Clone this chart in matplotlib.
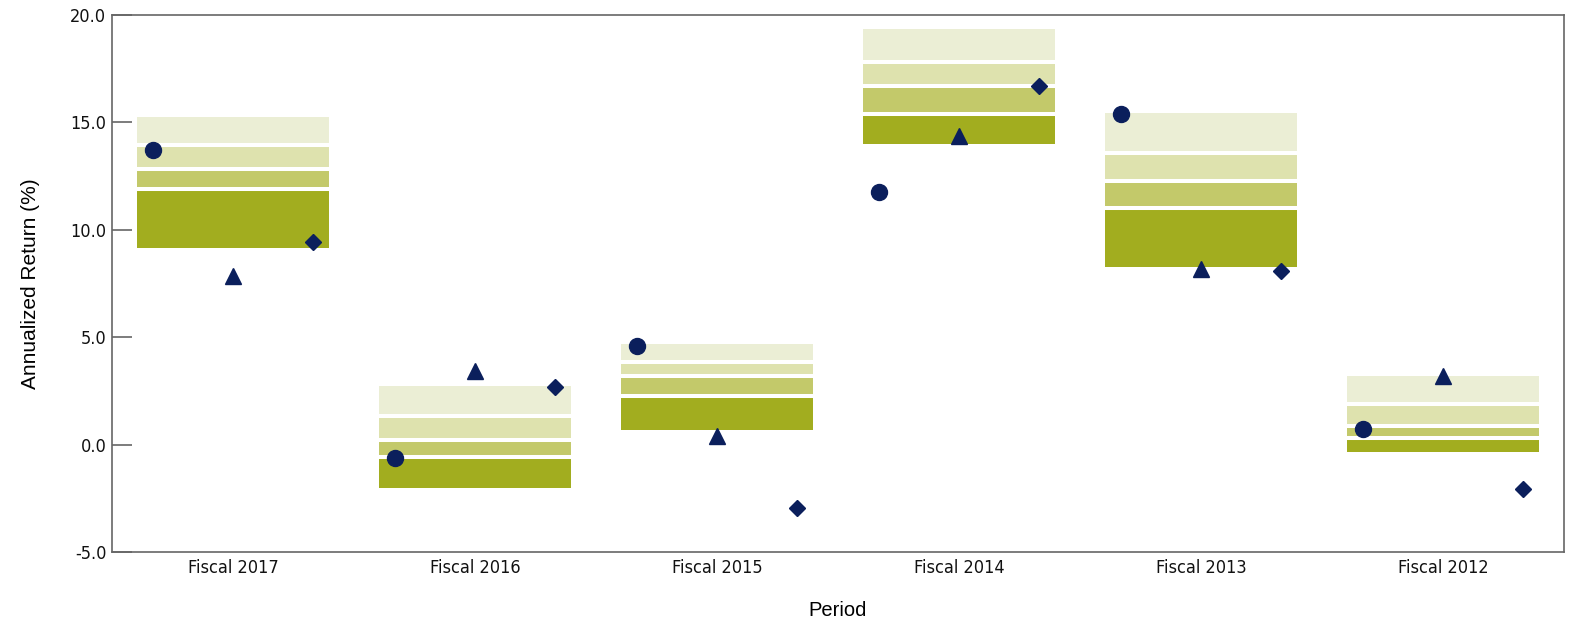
import numpy as np
import matplotlib
matplotlib.use('Agg')
import matplotlib.pyplot as plt
from matplotlib import font_manager

periods = ['Fiscal 2017', 'Fiscal 2016', 'Fiscal 2015', 'Fiscal 2014', 'Fiscal 2013', 'Fiscal 2012']

# percentile bands of the peer universe
p05 = [9.15, -2.00, 0.68, 14.00, 8.29, -0.33]
p25 = [11.92, -0.60, 2.27, 15.40, 11.02, 0.33]
p50 = [12.84, 0.23, 3.18, 16.71, 12.27, 0.87]
p75 = [13.94, 1.33, 3.84, 17.80, 13.58, 1.87]
p95 = [15.27, 2.71, 4.70, 19.33, 15.43, 3.21]

# three return series shown as markers
circle_vals = [13.72, -0.62, 4.60, 11.75, 15.40, 0.74]
triangle_vals = [7.86, 3.44, 0.39, 14.39, 8.19, 3.18]
diamond_vals = [9.43, 2.67, -2.95, 16.71, 8.09, -2.09]

band_colors = ['#A2AD1F', '#C3C96A', '#DEE2AE', '#EBEED5']
navy = '#0B1F5C'
grey = '#666666'

# tick labels in the original use a narrow face; use a condensed one if there is one
fp = font_manager.FontProperties(family='DejaVu Sans', stretch='condensed')
path = font_manager.findfont(fp, fallback_to_default=False)
if 'Condensed' in path:
    tick_font = dict(fontproperties=font_manager.FontProperties(fname=path, size=13))
else:
    tick_font = dict(fontproperties=font_manager.FontProperties(family='Liberation Sans', size=12.3))

fig = plt.figure(figsize=(15.69, 6.24), dpi=100)
ax = fig.add_axes([112 / 1569, 1 - 552 / 624, (1564 - 112) / 1569, (552 - 15) / 624])

x = np.arange(len(periods))
w = 0.79
lows = [p05, p25, p50, p75]
highs = [p25, p50, p75, p95]
for lo, hi, c in zip(lows, highs, band_colors):
    ax.bar(x, np.array(hi) - np.array(lo), bottom=lo, width=w, color=c,
           linewidth=0, zorder=2)

# white separators between the bands
for level in [p25, p50, p75]:
    ax.hlines(level, x - w / 2, x + w / 2, colors='white', linewidth=2.9, zorder=2.5)

off = 0.33
ax.plot(x - off, circle_vals, 'o', color=navy, markersize=11.5, linestyle='none', zorder=3)
ax.plot(x, triangle_vals, '^', color=navy, markersize=11.5, linestyle='none', zorder=3)
ax.plot(x + off, diamond_vals, 'D', color=navy, markersize=8, linestyle='none', zorder=3)

ax.set_xlim(-0.5, len(periods) - 0.5)
ax.set_ylim(-5, 20)
yt = np.arange(-5, 20.1, 5)
ax.set_yticks(yt)
ax.set_yticklabels(['%.1f' % v for v in yt], color='#111111', **tick_font)
ax.set_xticks(x)
ax.set_xticklabels(periods, color='#111111', **tick_font)

ax.tick_params(axis='y', direction='in', length=14.5, width=1.2, color=grey, pad=4)
ax.tick_params(axis='x', length=0, pad=5)
for s in ax.spines.values():
    s.set_color(grey)
    s.set_linewidth(1.2)

ax.set_xlabel('Period', fontsize=14.5, family=['Liberation Sans', 'DejaVu Sans'], labelpad=17)
ax.set_ylabel('Annualized Return (%)', fontsize=15, family=['Liberation Sans', 'DejaVu Sans'], labelpad=22)

fig.savefig('out.png', dpi=100)
